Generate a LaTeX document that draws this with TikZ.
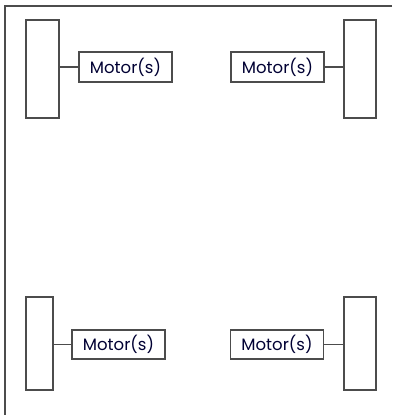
\documentclass[tikz,border=0pt]{standalone}
\usepackage{fontspec}
\setmainfont{Poppins}
\begin{document}
\begin{tikzpicture}[x=1pt,y=-1pt,
  line/.style={draw=black!70,line width=1.6pt},
  wheel/.style={line,rectangle,inner sep=0pt,fill=white},
  motor/.style={line,rectangle,inner sep=0pt,minimum width=93pt,minimum height=30pt,font=\fontsize{16.5pt}{18pt}\selectfont,text=black!80!blue},
  conn/.style={line}]
\useasboundingbox (0,0) rectangle (392,415);
\fill[white] (0,0) rectangle (392,415);
\coordinate (ftl) at (5,6);
\coordinate (ftr) at (392,6);
\coordinate (fbl) at (5,415);
\draw[line] (ftr) -- (ftl) -- (fbl);
% top-left
\node[wheel,minimum width=33pt,minimum height=98pt] (w1) at (42.5,69) {};
\node[motor] (m1) at (125.5,67) {Motor(s)};
\draw[conn] (m1.west) -- (m1.west -| w1.east);
% top-right
\node[wheel,minimum width=32pt,minimum height=98pt] (w2) at (360,69) {};
\node[motor] (m2) at (277.5,67) {Motor(s)};
\draw[conn] (m2.east) -- (m2.east -| w2.west);
% bottom-left
\node[wheel,minimum width=27pt,minimum height=93pt] (w3) at (39.5,343.5) {};
\node[motor,minimum height=29pt] (m3) at (118.5,344.5) {Motor(s)};
\draw[conn] (m3.west) -- (m3.west -| w3.east);
% bottom-right
\node[wheel,minimum width=32pt,minimum height=93pt] (w4) at (360,343.5) {};
\node[motor,minimum height=29pt] (m4) at (277,344.5) {Motor(s)};
\draw[conn] (m4.east) -- (m4.east -| w4.west);
\end{tikzpicture}
\end{document}
